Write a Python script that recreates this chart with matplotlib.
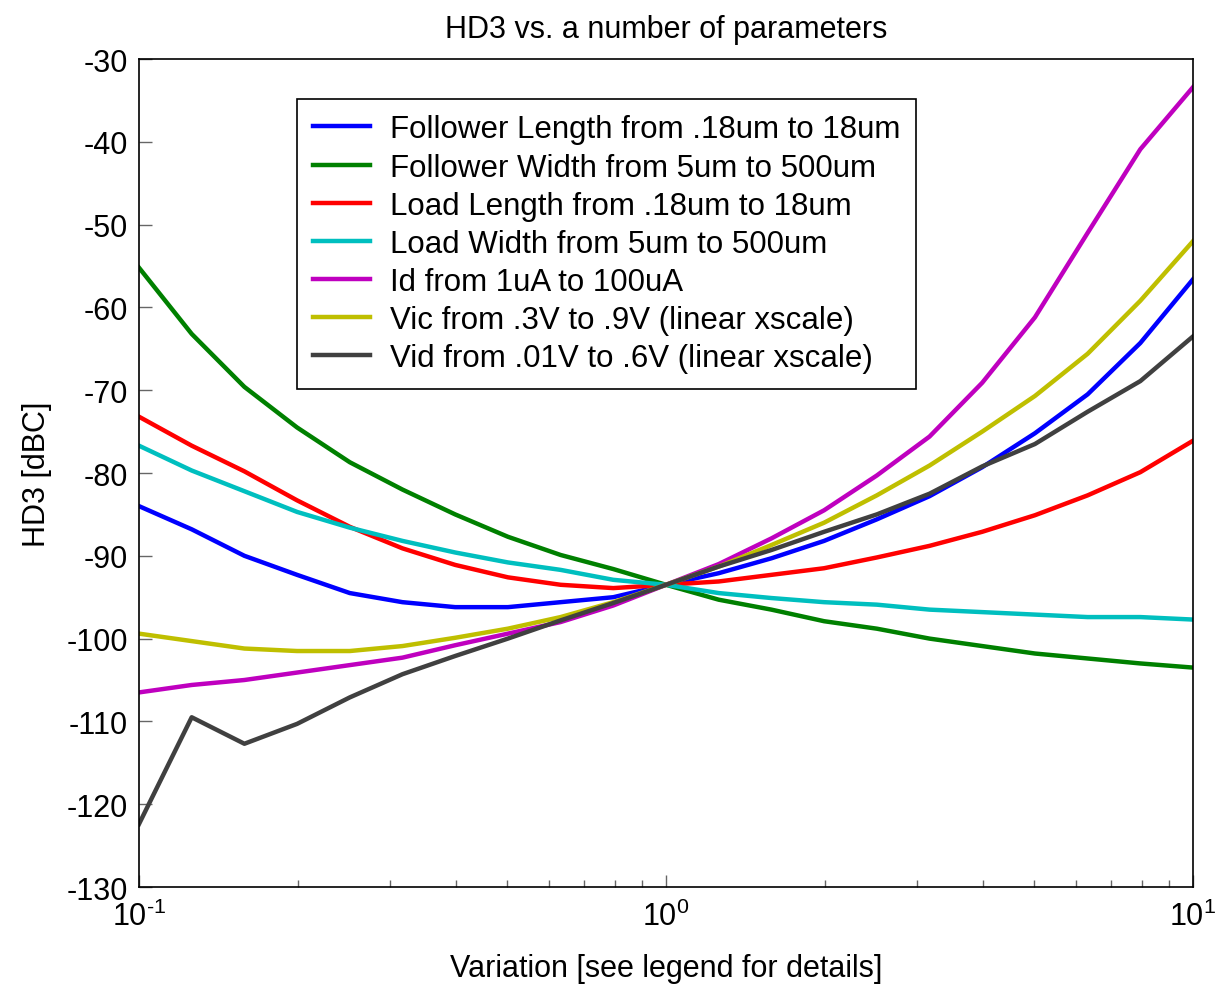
import numpy as np
import matplotlib
matplotlib.use("Agg")
import matplotlib.pyplot as plt
from matplotlib.ticker import LogLocator, FixedLocator, FixedFormatter

plt.rcParams['font.family'] = ['Liberation Sans', 'DejaVu Sans']
plt.rcParams['mathtext.fontset'] = 'custom'
plt.rcParams['mathtext.rm'] = 'Liberation Sans'
plt.rcParams['mathtext.it'] = 'Liberation Sans'
plt.rcParams['mathtext.bf'] = 'Liberation Sans'
plt.rcParams['axes.unicode_minus'] = False

variation = [0.1, 0.1259, 0.1585, 0.1995, 0.2512, 0.3162, 0.3981, 0.5012, 0.6310, 0.7943,
             1.0, 1.2589, 1.5849, 1.9953, 2.5119, 3.1623, 3.9811, 5.0119, 6.3096, 7.9433, 10.0]

follower_length = [-84.0, -86.8, -90.0, -92.3, -94.5, -95.6, -96.2, -96.2, -95.6, -95.0,
                   -93.5, -92.1, -90.3, -88.2, -85.6, -82.8, -79.3, -75.2, -70.5, -64.3, -56.6]
follower_width = [-55.2, -63.2, -69.6, -74.5, -78.7, -82.0, -85.0, -87.7, -89.9, -91.6,
                  -93.5, -95.3, -96.5, -97.9, -98.8, -100.0, -100.9, -101.8, -102.4, -103.0, -103.5]
load_length = [-73.2, -76.7, -79.8, -83.3, -86.5, -89.1, -91.1, -92.6, -93.5, -93.9,
               -93.5, -93.1, -92.3, -91.5, -90.2, -88.8, -87.1, -85.1, -82.7, -79.9, -76.1]
load_width = [-76.7, -79.7, -82.2, -84.7, -86.6, -88.2, -89.6, -90.8, -91.7, -92.9,
              -93.5, -94.5, -95.1, -95.6, -95.9, -96.5, -96.8, -97.1, -97.4, -97.4, -97.7]
id_current = [-106.5, -105.6, -105.0, -104.1, -103.2, -102.3, -100.8, -99.4, -98.0, -96.0,
              -93.5, -91.0, -87.9, -84.5, -80.3, -75.6, -69.1, -61.2, -51.0, -40.9, -33.4]
vic = [-99.4, -100.3, -101.2, -101.5, -101.5, -100.9, -99.9, -98.8, -97.4, -95.6,
       -93.5, -91.3, -88.7, -86.0, -82.7, -79.1, -75.0, -70.7, -65.6, -59.2, -52.0]
vid = [-122.4, -109.5, -112.7, -110.3, -107.1, -104.3, -102.1, -100.0, -97.8, -95.7,
       -93.5, -91.3, -89.3, -87.1, -85.0, -82.5, -79.2, -76.5, -72.6, -68.9, -63.5]

labels = ["Follower Length from .18um to 18um",
          "Follower Width from 5um to 500um",
          "Load Length from .18um to 18um",
          "Load Width from 5um to 500um",
          "Id from 1uA to 100uA",
          "Vic from .3V to .9V (linear xscale)",
          "Vid from .01V to .6V (linear xscale)"]
colors = [(0, 0, 1), (0, 0.5, 0), (1, 0, 0), (0, 0.75, 0.75),
          (0.75, 0, 0.75), (0.75, 0.75, 0), (0.25, 0.25, 0.25)]
series = [follower_length, follower_width, load_length, load_width, id_current, vic, vid]

xtick_values = [0.1, 1, 10]
xtick_labels = [r'$10^{\text{-}1}$', r'$10^{0}$', r'$10^{1}$']

fig = plt.figure(figsize=(12.17, 9.87), dpi=100)
ax = fig.add_axes([0.1142, 0.1003, 0.8661, 0.8389])
for ys, c, lab in zip(series, colors, labels):
    ax.plot(variation, ys, color=c, lw=3.2, label=lab)

ax.set_xscale('log')
ax.set_xlim(0.1, 10)
ax.set_ylim(-130, -30)
ax.set_yticks(np.arange(-130, -29, 10))
ax.xaxis.set_major_locator(FixedLocator(xtick_values))
ax.xaxis.set_major_formatter(FixedFormatter(xtick_labels))
ax.xaxis.set_minor_locator(LogLocator(base=10, subs=np.arange(2, 10)))
ax.tick_params(direction='in', length=9, width=1, labelsize=22, color='0.4', pad=8)
ax.tick_params(axis='x', pad=10)
ax.tick_params(which='minor', direction='in', length=5, width=1, color='0.4')
for s in ax.spines.values():
    s.set_linewidth(1.2)

ax.set_title("HD3 vs. a number of parameters", fontsize=22, pad=16)
ax.set_xlabel("Variation [see legend for details]", fontsize=22, labelpad=15)
ax.set_ylabel("HD3 [dBC]", fontsize=22, labelpad=10)

leg = ax.legend(loc='upper left', bbox_to_anchor=(0.15, 0.952), fontsize=22.5,
                frameon=True, fancybox=False, edgecolor='black', framealpha=1,
                handlelength=1.82, handletextpad=0.64, borderpad=0.5, labelspacing=0.26,
                borderaxespad=0)
leg.get_frame().set_linewidth(1.2)

fig.savefig("out.png", dpi=100)
